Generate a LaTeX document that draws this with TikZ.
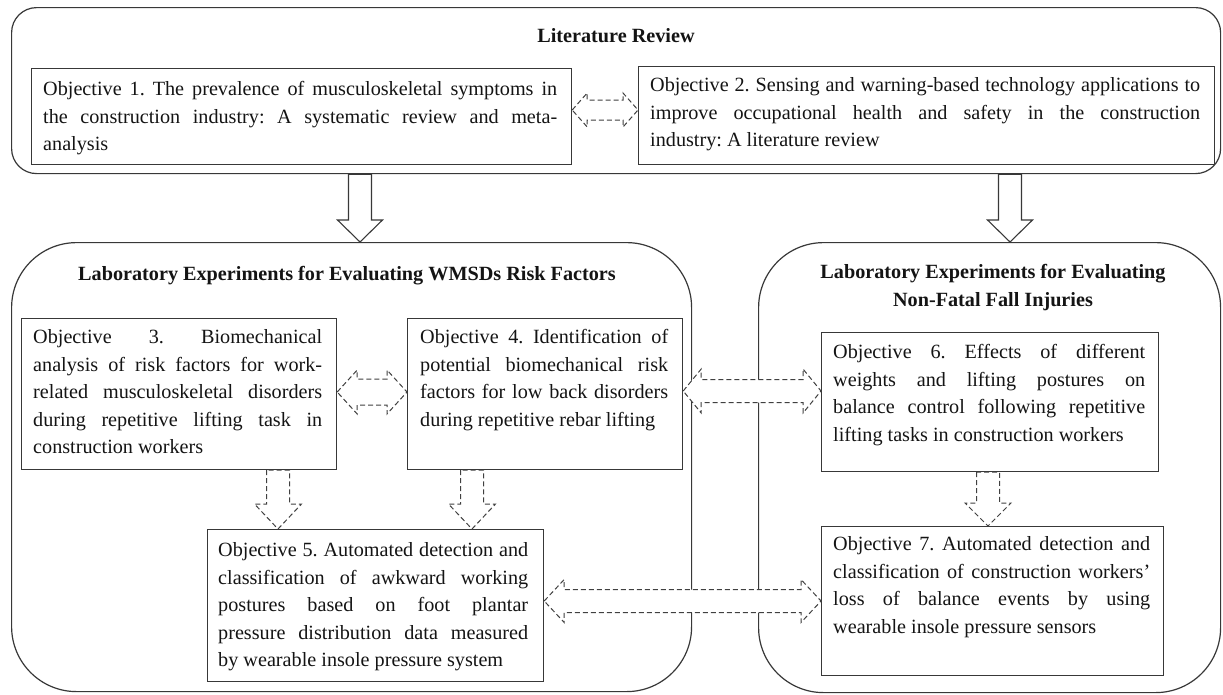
\documentclass[tikz,border=0pt]{standalone}
\usepackage{fontspec}
\setmainfont{Liberation Serif}
\usetikzlibrary{calc}
\frenchspacing
\newcommand{\objfont}{\fontsize{20.2pt}{27.5pt}\selectfont\frenchspacing}
\newcommand{\grptitlefont}{\fontsize{20.2pt}{28pt}\selectfont\bfseries}
\newcommand{\jl}[1]{\hbox to \hsize{#1}}
\newcommand{\lastl}[1]{\hbox{#1}}
\newcommand{\objpar}[2]{\vbox{\hsize=#1\relax\baselineskip=27.5pt\relax #2}}
\tikzset{
  boxline/.style={draw=black!78, line width=1.2pt},
  groupbox/.style={boxline, fill=white, inner sep=0pt, anchor=north west},
  objbox/.style={boxline, fill=white, inner sep=0pt, anchor=north west},
  objtext/.style={inner sep=0pt, anchor=north west, text=black!92, font=\objfont},
  titletext/.style={inner sep=0pt, font=\grptitlefont, text=black!92, align=center},
  solidblk/.style={draw=black!78, line width=1.1pt, fill=white, line join=miter},
  dashblk/.style={draw=black!75, line width=1pt, fill=white, dash pattern=on 5pt off 3pt},
}
% vertical block arrow: style, x, from anchor, to anchor, half shaft, half head, head length
\newcommand{\vblk}[7]{\draw[#1] let \p1=(#3), \p2=(#4) in
 ({#2pt-#5pt},\y1) -- ({#2pt-#5pt},{\y2+#7pt}) -- ({#2pt-#6pt},{\y2+#7pt}) -- (#2pt,\y2)
 -- ({#2pt+#6pt},{\y2+#7pt}) -- ({#2pt+#5pt},{\y2+#7pt}) -- ({#2pt+#5pt},\y1) -- cycle;}
% horizontal double block arrow: style, y, left anchor, right anchor, half shaft, half head, head length
\newcommand{\hblk}[7]{\draw[#1] let \p1=(#3), \p2=(#4) in
 (\x1,-#2pt) -- ({\x1+#7pt},{-#2pt+#6pt}) -- ({\x1+#7pt},{-#2pt+#5pt}) -- ({\x2-#7pt},{-#2pt+#5pt})
 -- ({\x2-#7pt},{-#2pt+#6pt}) -- (\x2,-#2pt) -- ({\x2-#7pt},{-#2pt-#6pt}) -- ({\x2-#7pt},{-#2pt-#5pt})
 -- ({\x1+#7pt},{-#2pt-#5pt}) -- ({\x1+#7pt},{-#2pt-#6pt}) -- cycle;}
\begin{document}
\begin{tikzpicture}[x=1pt,y=-1pt]
\useasboundingbox (0,0) rectangle (1223,694);
% group boxes
\node[groupbox, rounded corners=25pt, minimum width=1209pt, minimum height=166pt] (lit) at (11,7) {};
\node[groupbox, rounded corners=65pt, minimum width=680pt, minimum height=449pt] (lab1) at (11,242) {};
\node[groupbox, rounded corners=65pt, minimum width=462pt, minimum height=450pt] (lab2) at (758,242) {};
% titles
\node[titletext] (litT) at (616,36) {Literature Review};
\node[titletext] (lab1T) at (347,276) {Laboratory Experiments for Evaluating WMSDs Risk Factors};
\node[titletext] (lab2T) at (993,288) {Laboratory Experiments for Evaluating\\Non-Fatal Fall Injuries};
% objective boxes
\node[objbox, minimum width=540pt, minimum height=96pt] (o1) at (31,68) {};
\node[objbox, minimum width=576pt, minimum height=98pt] (o2) at (638,66) {};
\node[objbox, minimum width=315pt, minimum height=151pt] (o3) at (21,318) {};
\node[objbox, minimum width=275pt, minimum height=151pt] (o4) at (407,318) {};
\node[objbox, minimum width=336pt, minimum height=152pt] (o5) at (207,529) {};
\node[objbox, minimum width=337pt, minimum height=139pt] (o6) at (821,332) {};
\node[objbox, minimum width=342pt, minimum height=149pt] (o7) at (821,526) {};
% objective texts
\node[objtext] (t1) at (43,81.5) {\objpar{514pt}{%
\jl{Objective 1. The prevalence of musculoskeletal symptoms in}%
\jl{the construction industry: A systematic review and meta-}%
\lastl{analysis}}};
\node[objtext] (t2) at (650,77.5) {\objpar{550pt}{%
\jl{Objective 2. Sensing and warning-based technology applications to}%
\jl{improve occupational health and safety in the construction}%
\lastl{industry: A literature review}}};
\node[objtext] (t3) at (33,329.5) {\objpar{289pt}{%
\jl{Objective 3. Biomechanical}%
\jl{analysis of risk factors for work-}%
\jl{related musculoskeletal disorders}%
\jl{during repetitive lifting task in}%
\lastl{construction workers}}};
\node[objtext] (t4) at (420,329.5) {\objpar{248pt}{%
\jl{Objective 4. Identification of}%
\jl{potential biomechanical risk}%
\jl{factors for low back disorders}%
\lastl{during repetitive rebar lifting}}};
\node[objtext] (t5) at (218,542.5) {\objpar{310pt}{%
\jl{Objective 5. Automated detection and}%
\jl{classification of awkward working}%
\jl{postures based on foot plantar}%
\jl{pressure distribution data measured}%
\lastl{by wearable insole pressure system}}};
\node[objtext] (t6) at (833,344.5) {\objpar{312pt}{%
\jl{Objective 6. Effects of different}%
\jl{weights and lifting postures on}%
\jl{balance control following repetitive}%
\lastl{lifting tasks in construction workers}}};
\node[objtext] (t7) at (833,536.5) {\objpar{317pt}{%
\jl{Objective 7. Automated detection and}%
\jl{classification of construction workers’}%
\jl{loss of balance events by using}%
\lastl{wearable insole pressure sensors}}};
% block arrows
\vblk{solidblk}{360}{lit.south}{lab1.north}{11.5}{22.5}{22}
\vblk{solidblk}{1010}{lit.south}{lab2.north}{11.5}{22.5}{22}
\vblk{dashblk}{278}{o3.south}{o5.north}{11.5}{23.5}{25}
\vblk{dashblk}{472}{o4.south}{o5.north}{11.5}{23.5}{25}
\vblk{dashblk}{988}{o6.south}{o7.north}{11.5}{23}{23}
\hblk{dashblk}{110}{o1.east}{o2.west}{10}{17}{15}
\hblk{dashblk}{392}{o3.east}{o4.west}{13}{22}{20}
\hblk{dashblk}{391}{o4.east}{o6.west}{11.5}{22}{18}
\hblk{dashblk}{601}{o5.east}{o7.west}{11.5}{21.5}{20}
\end{tikzpicture}
\end{document}
